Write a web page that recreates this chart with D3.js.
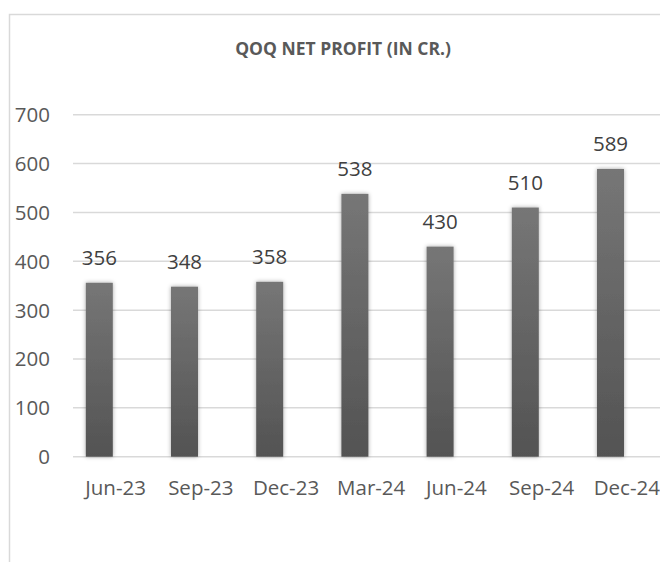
<!DOCTYPE html>
<html>
<head>
<meta charset="utf-8">
<script src="https://cdn.jsdelivr.net/npm/d3@7"></script>
<style>
  html, body { margin: 0; padding: 0; background: #fff; }
  svg { display: block; font-family: "Open Sans", sans-serif; }
</style>
</head>
<body>
<div id="canvas"></div>
<script>
"use strict";

/* data */
let quarters = ["Jun-23", "Sep-23", "Dec-23", "Mar-24", "Jun-24", "Sep-24", "Dec-24"];
let profits = [356, 348, 358, 538, 430, 510, 589];
let yTicks = [0, 100, 200, 300, 400, 500, 600, 700];

/* layout */
let svgWidth = 660;
let svgHeight = 562;
let plotLeft = 73;
let plotTop = 114.7;
let plotBottom = 456.7;
let step = 85.2;
let barWidth = 27;
let barShift = -16.3;   // bars sit left of the category centre in the picture

let svg = d3.select("#canvas")
    .append("svg")
    .attr("width", svgWidth)
    .attr("height", svgHeight);

/* gradient + shadow for bars */
let defs = svg.append("defs");
let grad = defs.append("linearGradient")
    .attr("id", "barGrad")
    .attr("x1", 0).attr("y1", 0).attr("x2", 0).attr("y2", 1);
grad.append("stop").attr("offset", "0%").attr("stop-color", "#767676");
grad.append("stop").attr("offset", "100%").attr("stop-color", "#535353");

let shadow = defs.append("filter")
    .attr("id", "barShadow")
    .attr("x", "-50%").attr("y", "-10%")
    .attr("width", "200%").attr("height", "120%");
shadow.append("feDropShadow")
    .attr("dx", 0).attr("dy", 0)
    .attr("stdDeviation", 2)
    .attr("flood-color", "#000")
    .attr("flood-opacity", 0.35);

/* outer border (right and bottom are cut off in the picture) */
svg.append("rect")
    .attr("x", 9.5)
    .attr("y", 14.5)
    .attr("width", 700)
    .attr("height", 600)
    .attr("fill", "none")
    .attr("stroke", "#d9d9d9")
    .attr("stroke-width", 1.5);

/* title */
svg.append("text")
    .attr("x", 343)
    .attr("y", 55)
    .attr("text-anchor", "middle")
    .attr("font-size", 17.5)
    .attr("font-weight", "bold")
    .attr("fill", "#595959")
    .text("QOQ NET PROFIT (IN CR.)");

/* scales */
let xScale = d3.scaleBand()
    .domain(quarters)
    .range([plotLeft, plotLeft + step * quarters.length])
    .paddingInner(0)
    .paddingOuter(0);

let yScale = d3.scaleLinear()
    .domain([0, 700])
    .range([plotBottom, plotTop]);

/* gridlines */
svg.append("g")
    .selectAll("line")
    .data(yTicks)
    .join("line")
    .attr("x1", plotLeft)
    .attr("x2", svgWidth + 10)
    .attr("y1", d => yScale(d))
    .attr("y2", d => yScale(d))
    .attr("stroke", "#d9d9d9")
    .attr("stroke-width", 1.5);

/* y tick labels */
svg.append("g")
    .selectAll("text")
    .data(yTicks)
    .join("text")
    .attr("x", 50)
    .attr("y", d => yScale(d))
    .attr("dy", "0.36em")
    .attr("text-anchor", "end")
    .attr("font-size", 20.5)
    .attr("fill", "#595959")
    .text(d => d);

/* bars */
let rows = quarters.map((q, i) => ({ q: q, v: profits[i] }));

let barX = d => xScale(d.q) + xScale.bandwidth() / 2 + barShift - barWidth / 2;

svg.append("g")
    .selectAll("rect")
    .data(rows)
    .join("rect")
    .attr("x", barX)
    .attr("y", d => yScale(d.v))
    .attr("width", barWidth)
    .attr("height", d => yScale(0) - yScale(d.v))
    .attr("fill", "url(#barGrad)")
    .attr("filter", "url(#barShadow)");

/* value labels */
svg.append("g")
    .selectAll("text")
    .data(rows)
    .join("text")
    .attr("x", d => barX(d) + barWidth / 2)
    .attr("y", d => yScale(d.v) - 18)
    .attr("text-anchor", "middle")
    .attr("font-size", 20.5)
    .attr("fill", "#404040")
    .text(d => d.v);

/* x labels */
svg.append("g")
    .selectAll("text")
    .data(quarters)
    .join("text")
    .attr("x", d => xScale(d) + xScale.bandwidth() / 2)
    .attr("y", 495)
    .attr("text-anchor", "middle")
    .attr("font-size", 20.5)
    .attr("fill", "#595959")
    .text(d => d);
</script>
</body>
</html>
